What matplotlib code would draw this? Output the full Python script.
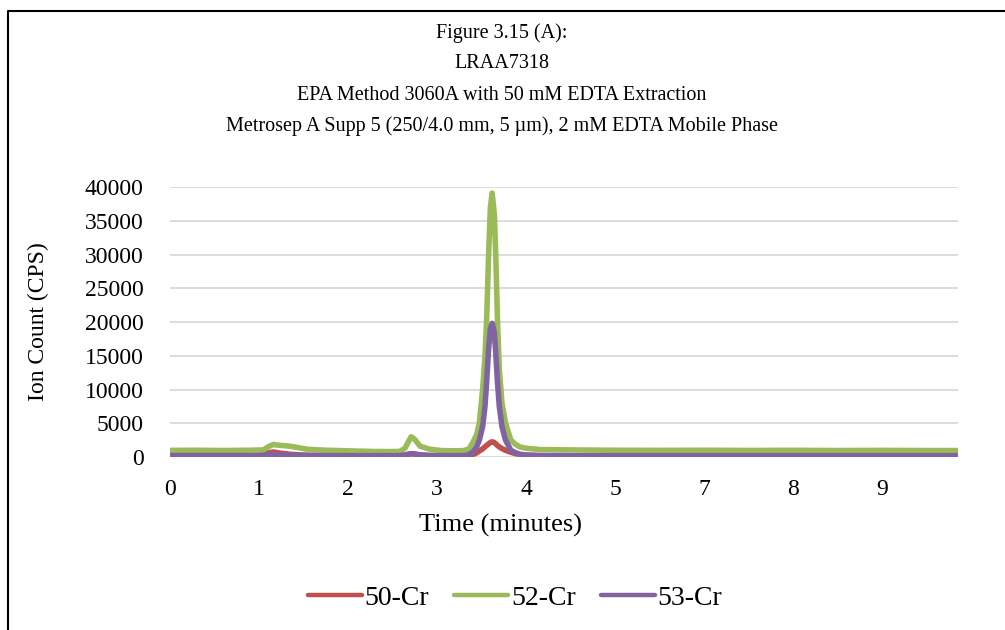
import numpy as np
from matplotlib import pyplot as plt
from matplotlib.lines import Line2D

plt.rcParams['font.family'] = ['Liberation Serif', 'DejaVu Serif']

# retention time in axis units (the axis is labelled like a category axis)
t = [0.0, 0.3, 0.6, 0.9, 1.05, 1.10, 1.16, 1.22, 1.35, 1.54, 1.75, 1.91, 2.1, 2.28,
     2.45, 2.58, 2.64, 2.68, 2.71, 2.75, 2.81, 2.92, 3.05, 3.2, 3.30, 3.36, 3.408,
     3.445, 3.476, 3.513, 3.539, 3.557, 3.58, 3.60, 3.62, 3.644, 3.66, 3.68, 3.70,
     3.73, 3.77, 3.83, 3.88, 3.93, 4.0, 4.16, 4.5, 5.0, 5.5, 6.0, 6.5, 7.0, 7.5,
     8.0, 8.5, 8.85]

cr50 = [150, 150, 160, 150, 300, 600, 750, 600, 400, 250, 200, 180, 170, 160,
        160, 170, 250, 400, 500, 450, 300, 200, 170, 160, 170, 250, 400,
        600, 900, 1200, 1500, 1700, 1950, 2150, 2250, 2150, 1950, 1700, 1500,
        1250, 1000, 700, 500, 380, 260, 180, 150, 150, 150, 150, 150, 150, 150,
        150, 150, 150]

cr52 = [980, 1000, 960, 1000, 1050, 1500, 1850, 1750, 1600, 1150, 1000, 950, 880, 820,
        800, 820, 1300, 2300, 3000, 2600, 1600, 1150, 950, 920, 950, 1200, 2300,
        3300, 5000, 10000, 15000, 20000, 30000, 37000, 39100, 36000, 30000, 20000, 13000,
        8000, 5000, 2500, 1900, 1500, 1300, 1100, 1050, 1000, 980, 1000, 970, 990, 960,
        980, 960, 950]

cr53 = [220, 220, 220, 220, 230, 300, 350, 320, 260, 230, 220, 210, 200, 200,
        200, 210, 300, 420, 480, 430, 300, 230, 210, 200, 210, 350, 800,
        1500, 2500, 4500, 7500, 11000, 16000, 19000, 19800, 18500, 15500, 11000, 7500,
        4500, 2500, 1000, 650, 400, 300, 220, 200, 200, 200, 200, 200, 200, 200,
        200, 200, 200]

tick_pos = [0, 1, 2, 3, 4, 5, 6, 7, 8]
tick_labels = ['0', '1', '2', '3', '4', '5', '7', '8', '9']
y_ticks = np.arange(0, 40001, 5000)

title_lines = ['Figure 3.15 (A):', 'LRAA7318',
               'EPA Method 3060A with 50 mM EDTA Extraction',
               'Metrosep A Supp 5 (250/4.0 mm, 5 \u00b5m), 2 mM EDTA Mobile Phase']

W, H = 1005, 630
fig = plt.figure(figsize=(W / 100, H / 100), dpi=100)
ax = fig.add_axes([170 / W, 1 - 457 / H, (958 - 170) / W, (457 - 187) / H])

ax.plot(t, cr50, color='#C0504D', lw=4.0, label='50-Cr', solid_capstyle='round')
ax.plot(t, cr52, color='#9BBB59', lw=4.0, label='52-Cr', solid_capstyle='round')
ax.plot(t, cr53, color='#8064A2', lw=4.0, label='53-Cr', solid_capstyle='round')

ax.set_xlim(0, 8.854)
ax.set_ylim(0, 40000)
ax.set_yticks(y_ticks)
ax.set_xticks(tick_pos)
ax.set_xticklabels(tick_labels)
ax.grid(axis='y', color='#D9D9D9', lw=1.3)
ax.set_axisbelow(True)
for s in ax.spines.values():
    s.set_visible(False)
ax.tick_params(length=0, labelsize=17)
ax.tick_params(axis='y', pad=19)
ax.tick_params(axis='x', pad=16)

fig.text(500 / W, 1 - 525 / H, 'Time (minutes)', ha='center', va='center', fontsize=19)
fig.text(38 / W, 1 - 322 / H, 'Ion Count (CPS)', ha='center', va='center',
         rotation=90, fontsize=17)

for i, line in enumerate(title_lines):
    fig.text(502 / W, 1 - (33 + 31 * i) / H, line, ha='center', va='center', fontsize=14.5)

leg = fig.legend(loc='center', bbox_to_anchor=(515 / W, 1 - 598 / H), ncol=3, frameon=False,
                 fontsize=20, handlelength=1.95, handletextpad=0.1, columnspacing=0.9)
for h in leg.get_lines():
    h.set_linewidth(3.2)

# chart border (top and left edges visible)
fig.add_artist(Line2D([8 / W, 8 / W, 1], [0, 1 - 11 / H, 1 - 11 / H],
                      transform=fig.transFigure, color='black', lw=1.5))

fig.savefig('out.png', dpi=100)
